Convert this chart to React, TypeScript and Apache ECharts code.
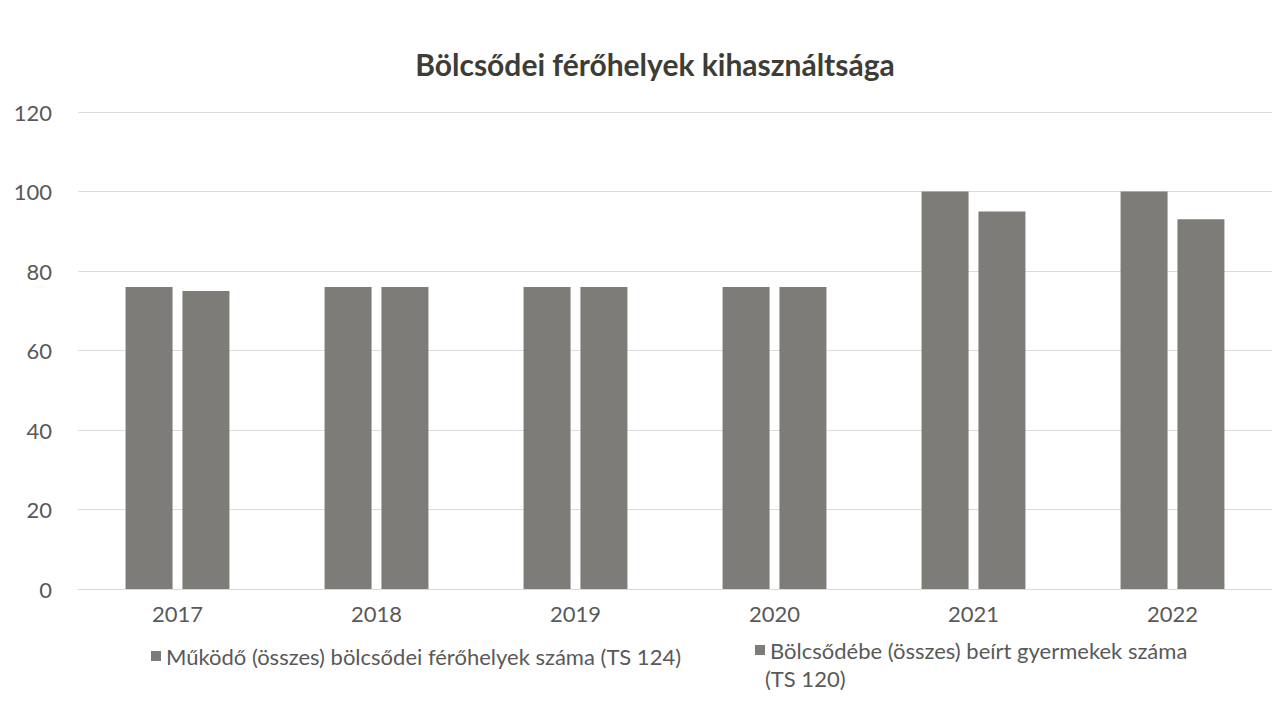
import React, { useEffect, useRef } from "react";
import * as echarts from "echarts";

const categories = ["2017", "2018", "2019", "2020", "2021", "2022"];
const seriesNames = [
  "Működő (összes) bölcsődei férőhelyek száma (TS 124)",
  "Bölcsődébe (összes) beírt gyermekek száma (TS 120)",
];
const placesValues = [76, 76, 76, 76, 100, 100];
const enrolledValues = [75, 76, 76, 76, 95, 93];
const titleText = "Bölcsődei férőhelyek kihasználtsága";

const FONT = "Lato, 'Open Sans', sans-serif";
const BAR = "#7e7c78";
const TEXT = "#595959";

export default function App() {
  const ref = useRef<HTMLDivElement>(null);
  useEffect(() => {
    if (!ref.current) return;
    const chart = echarts.init(ref.current, undefined, { renderer: "svg" });
    chart.setOption({
      animation: false,
      backgroundColor: "#ffffff",
      title: {
        text: titleText,
        left: 650,
        top: 44,
        textAlign: "center",
        textStyle: { fontFamily: FONT, fontSize: 30, fontWeight: "bold", color: "#3d3d35" },
      },
      grid: { left: 78, right: 2, top: 112, bottom: 130, containLabel: false },
      legend: [
        {
          data: [seriesNames[0]],
          left: 146,
          top: 640,
          itemWidth: 10,
          itemHeight: 10,
          icon: "rect",
          itemGap: 6,
          textStyle: { fontFamily: FONT, fontSize: 22, color: TEXT },
        },
        {
          data: [seriesNames[1]],
          left: 750,
          top: 634,
          itemWidth: 10,
          itemHeight: 10,
          icon: "rect",
          formatter: (n: string) => n.replace(" (TS 120)", ""),
          textStyle: { fontFamily: FONT, fontSize: 22, color: TEXT },
        },
      ],
      graphic: [
        {
          type: "text",
          left: 765,
          top: 667,
          style: { text: "(TS 120)", font: `22px ${FONT}`, fill: TEXT },
        },
      ],
      xAxis: {
        type: "category",
        data: categories,
        axisLine: { show: true, lineStyle: { color: "#d9d9d9" } },
        axisTick: { show: false },
        axisLabel: { fontFamily: FONT, fontSize: 22, color: TEXT, margin: 13 },
      },
      yAxis: {
        type: "value",
        min: 0,
        max: 120,
        interval: 20,
        axisLine: { show: false },
        axisTick: { show: false },
        splitLine: { lineStyle: { color: "#dcdcdc", width: 1 } },
        axisLabel: { fontFamily: FONT, fontSize: 22, color: TEXT, margin: 26 },
      },
      series: [
        {
          name: seriesNames[0],
          type: "bar",
          data: placesValues,
          barWidth: 47,
          barGap: "21%",
          itemStyle: { color: BAR },
        },
        {
          name: seriesNames[1],
          type: "bar",
          data: enrolledValues,
          barWidth: 47,
          itemStyle: { color: BAR },
        },
      ],
    });
    return () => chart.dispose();
  }, []);
  return (
    <div
      ref={ref}
      style={{ position: "absolute", left: 0, top: 0, width: 1274, height: 719 }}
    />
  );
}
